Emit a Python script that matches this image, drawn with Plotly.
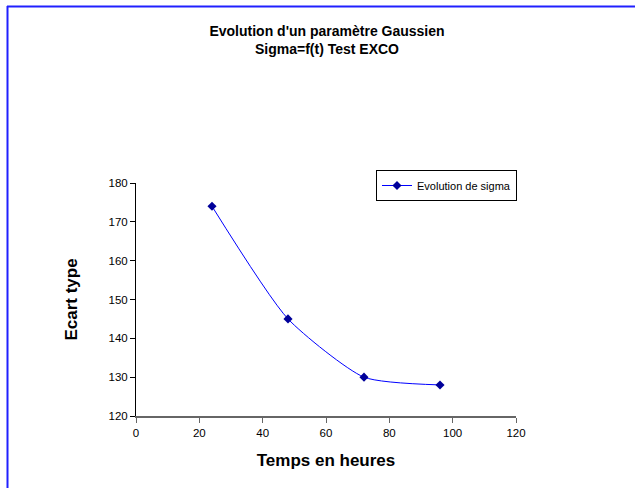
import plotly.graph_objects as go

hours = [24, 48, 72, 96]
sigma = [174, 145, 130, 128]
series_name = "Evolution de sigma"
title_lines = ["Evolution d'un paramètre Gaussien", "Sigma=f(t) Test EXCO"]
x_title = "Temps en heures"
y_title = "Ecart type"

W, H = 635, 488
L, R, T, B = 136, 119, 183, 72
pw, ph = W - L - R, H - T - B

def px2paper_x(px):
    return (px - L) / pw

def px2paper_y(py):
    return (H - B - py) / ph

fig = go.Figure()
fig.add_trace(go.Scatter(
    x=hours, y=sigma, name=series_name, mode="lines+markers",
    line=dict(color="#0000FF", width=1, shape="spline", smoothing=0.6),
    marker=dict(symbol="diamond", size=7, color="#00009A"),
))

font = "Liberation Sans, Arial, sans-serif"
fig.update_layout(
    width=W, height=H,
    margin=dict(l=L, r=R, t=T, b=B, autoexpand=False),
    paper_bgcolor="white", plot_bgcolor="white",
    font=dict(family=font, size=11.5, color="black"),
    title=dict(text="<b>" + title_lines[0] + "</b><br><b>" + title_lines[1] + "</b>",
               x=327 / W, xanchor="center", y=1 - 36 / H, yanchor="top",
               font=dict(size=14, family=font, color="black")),
    showlegend=True,
    legend=dict(x=px2paper_x(376), y=px2paper_y(170), xanchor="left", yanchor="top",
                bordercolor="black", borderwidth=1, bgcolor="white",
                font=dict(size=11, family=font), itemwidth=30,
                tracegroupgap=0),
    xaxis=dict(range=[0, 120], dtick=20, showgrid=False, zeroline=False,
               showline=True, linecolor="#666666", linewidth=1.5,
               ticks="outside", ticklen=5, tickcolor="#666666",
               tickfont=dict(size=11.5, family=font), automargin=False,
               title=dict(text="<b>" + x_title + "</b>", standoff=17,
                          font=dict(size=17, family=font))),
    yaxis=dict(range=[120, 180], dtick=10, showgrid=False, zeroline=False,
               showline=True, linecolor="black", linewidth=1,
               ticks="outside", ticklen=5, tickcolor="black",
               tickfont=dict(size=11.5, family=font), automargin=False,
               title=dict(text="<b>" + y_title + "</b>", standoff=26,
                          font=dict(size=17, family=font))),
)

# blue selection frame (top and left edges)
fig.add_shape(type="line", xref="paper", yref="paper",
              x0=px2paper_x(7), x1=px2paper_x(W), y0=px2paper_y(6.5), y1=px2paper_y(6.5),
              line=dict(color="#2020FF", width=2))
fig.add_shape(type="line", xref="paper", yref="paper",
              x0=px2paper_x(7.5), x1=px2paper_x(7.5), y0=px2paper_y(6), y1=px2paper_y(H),
              line=dict(color="#2020FF", width=2))

fig.write_html("out.html", config={"displayModeBar": False},
               post_script="document.body.style.margin='0';")
